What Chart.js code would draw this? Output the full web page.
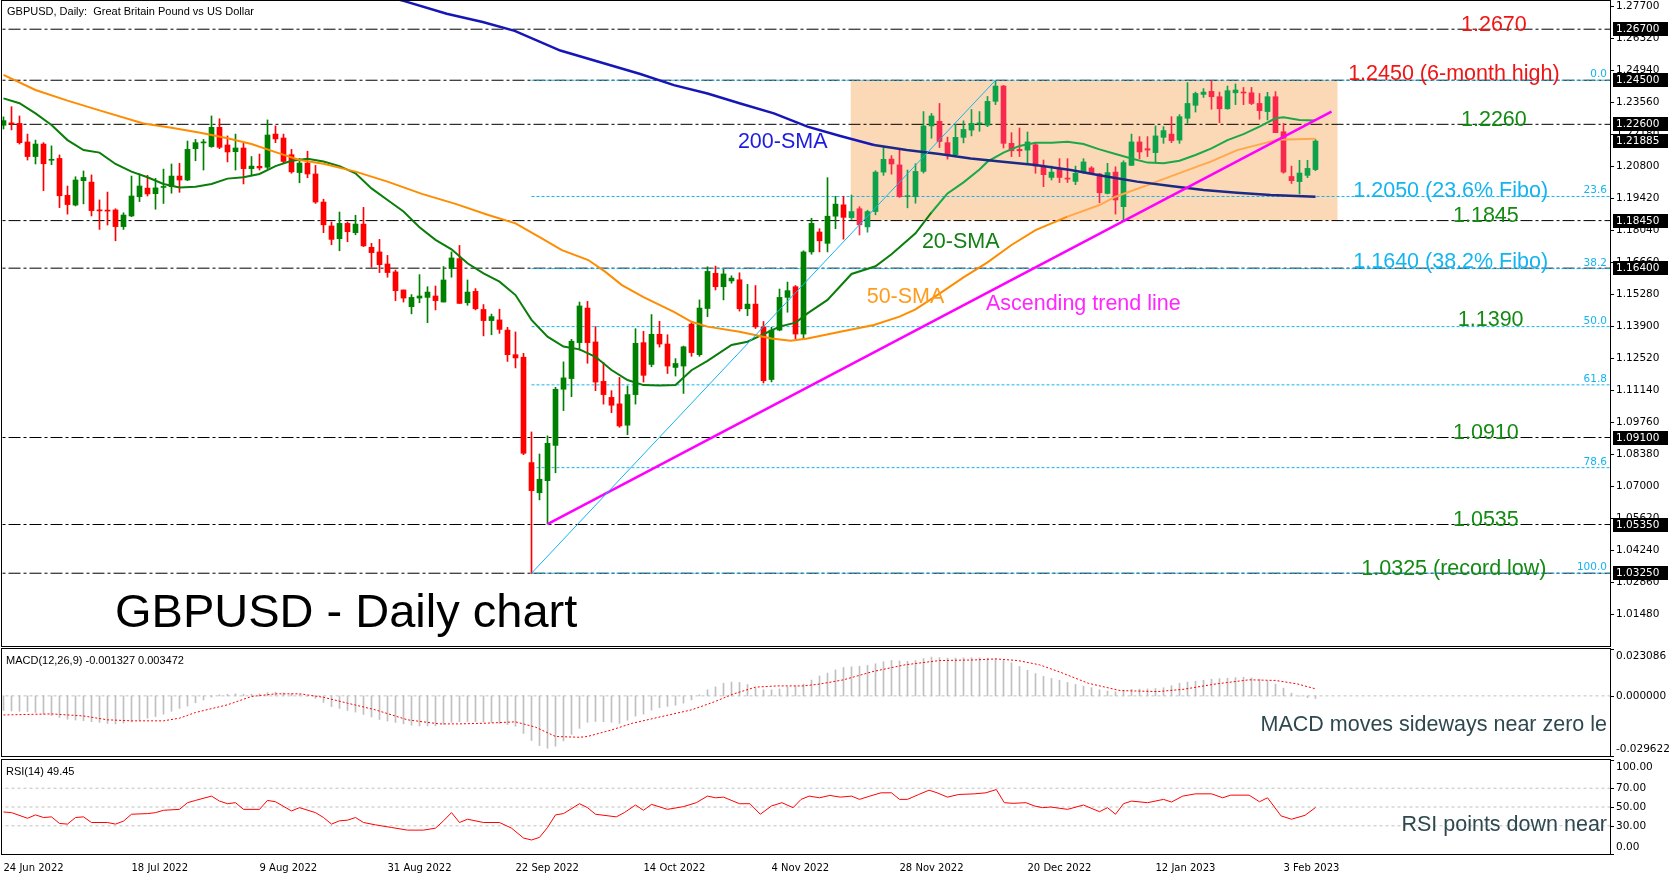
<!DOCTYPE html>
<html>
<head>
<meta charset="utf-8">
<script src="https://cdn.jsdelivr.net/npm/chart.js@4.4.0/dist/chart.umd.min.js"></script>
<style>
  html, body { margin: 0; padding: 0; background: #fff; }
  body { width: 1680px; height: 877px; position: relative; overflow: hidden; }
  canvas { position: absolute; left: 0; }
  #main { top: 0; }
  #macd { top: 648px; }
  #rsi { top: 758px; }
</style>
</head>
<body>
<canvas id="main" width="1680" height="648"></canvas>
<canvas id="macd" width="1680" height="110"></canvas>
<canvas id="rsi" width="1680" height="119"></canvas>
<script>
// daily candles, one per bar index
const open = [
  1.2256, 1.2265, 1.2264, 1.2184, 1.2121, 1.2175, 1.2105, 1.2113, 1.1954, 1.1912,
  1.2017, 1.2011, 1.1890, 1.1889, 1.1891, 1.1819, 1.1865, 1.1948, 1.1985, 1.1961,
  1.1988, 1.1991, 1.2037, 1.2020, 1.2155, 1.2180, 1.2164, 1.2247, 1.2171, 1.2142,
  1.2158, 1.2069, 1.2079, 1.2075, 1.2218, 1.2201, 1.2129, 1.2052, 1.2093, 1.2046,
  1.1925, 1.1822, 1.1767, 1.1833, 1.1793, 1.1830, 1.1730, 1.1710, 1.1658, 1.1624,
  1.1546, 1.1474, 1.1511, 1.1514, 1.1520, 1.1494, 1.1638, 1.1681, 1.1491, 1.1540,
  1.1462, 1.1414, 1.1417, 1.1373, 1.1267, 1.1256, 1.0802, 1.0672, 1.0724, 1.0876,
  1.1118, 1.1164, 1.1319, 1.1468, 1.1322, 1.1152, 1.1083, 1.1055, 1.0963, 1.1095,
  1.1319, 1.1225, 1.1355, 1.1313, 1.1212, 1.1218, 1.1399, 1.1267, 1.1466, 1.1618,
  1.1560, 1.1585, 1.1590, 1.1465, 1.1485, 1.1387, 1.1160, 1.1373, 1.1514, 1.1560,
  1.1356, 1.1710, 1.1796, 1.1747, 1.1864, 1.1913, 1.1858, 1.1896, 1.1818, 1.1884,
  1.2054, 1.2110, 1.2085, 1.1948, 1.1948, 1.2057, 1.2253, 1.2273, 1.2181, 1.2129,
  1.2204, 1.2235, 1.2262, 1.2256, 1.2359, 1.2425, 1.2178, 1.2152, 1.2149, 1.2172,
  1.2080, 1.2031, 1.2069, 1.2028, 1.2014, 1.2054, 1.2072, 1.2046, 1.1962, 1.2054,
  1.1905, 1.2083, 1.2184, 1.2155, 1.2138, 1.2204, 1.2218, 1.2192, 1.2286, 1.2342,
  1.2389, 1.2402, 1.2379, 1.2327, 1.2396, 1.2399, 1.2396, 1.2350, 1.2315, 1.2379,
  1.2228, 1.2035, 1.2013, 1.2040, 1.2065
];
const high = [
  1.2292, 1.2336, 1.2296, 1.2218, 1.2192, 1.2181, 1.2167, 1.2128, 1.1994, 1.2034,
  1.2059, 1.2042, 1.1934, 1.1968, 1.1896, 1.1879, 1.2037, 1.2046, 1.2040, 1.2027,
  1.2067, 1.2089, 1.2092, 1.2188, 1.2195, 1.2195, 1.2296, 1.2284, 1.2210, 1.2218,
  1.2178, 1.2121, 1.2132, 1.2279, 1.2253, 1.2218, 1.2152, 1.2113, 1.2144, 1.2083,
  1.1937, 1.1839, 1.1882, 1.1839, 1.1868, 1.1902, 1.1747, 1.1764, 1.1695, 1.1632,
  1.1546, 1.1526, 1.1612, 1.1560, 1.1563, 1.1647, 1.1710, 1.1738, 1.1589, 1.1552,
  1.1483, 1.1442, 1.1463, 1.1385, 1.1365, 1.1273, 1.0934, 1.0839, 1.0917, 1.1126,
  1.1236, 1.1333, 1.1494, 1.1497, 1.1388, 1.1233, 1.1112, 1.1169, 1.1132, 1.1379,
  1.1368, 1.1440, 1.1411, 1.1353, 1.1250, 1.1304, 1.1405, 1.1503, 1.1646, 1.1649,
  1.1635, 1.1607, 1.1620, 1.1570, 1.1565, 1.1410, 1.1385, 1.1550, 1.1580, 1.1565,
  1.1715, 1.1855, 1.1810, 1.2030, 1.1950, 1.1950, 1.1955, 1.1905, 1.1890, 1.2060,
  1.2161, 1.2125, 1.2150, 1.2063, 1.2090, 1.2315, 1.2307, 1.2350, 1.2205, 1.2260,
  1.2275, 1.2324, 1.2315, 1.2380, 1.2447, 1.2428, 1.2224, 1.2244, 1.2227, 1.2178,
  1.2106, 1.2080, 1.2112, 1.2112, 1.2080, 1.2112, 1.2078, 1.2049, 1.2092, 1.2077,
  1.2103, 1.2218, 1.2207, 1.2207, 1.2253, 1.2250, 1.2293, 1.2302, 1.2440, 1.2399,
  1.2414, 1.2448, 1.2399, 1.2425, 1.2434, 1.2419, 1.2419, 1.2393, 1.2398, 1.2401,
  1.2264, 1.2080, 1.2105, 1.2105, 1.2195
];
const low = [
  1.2240, 1.2236, 1.2175, 1.2106, 1.2089, 1.1974, 1.2086, 1.1901, 1.1873, 1.1908,
  1.1917, 1.1865, 1.1807, 1.1826, 1.1758, 1.1807, 1.1862, 1.1927, 1.1951, 1.1894,
  1.1919, 1.1963, 1.1967, 1.2017, 1.2103, 1.2063, 1.2161, 1.2155, 1.2098, 1.2063,
  1.2003, 1.2040, 1.2063, 1.2069, 1.2181, 1.2092, 1.2049, 1.2008, 1.2030, 1.1919,
  1.1793, 1.1741, 1.1715, 1.1754, 1.1784, 1.1733, 1.1644, 1.1621, 1.1601, 1.1500,
  1.1494, 1.1443, 1.1491, 1.1405, 1.1460, 1.1494, 1.1601, 1.1488, 1.1480, 1.1460,
  1.1348, 1.1353, 1.1359, 1.1238, 1.1210, 1.0836, 1.0324, 1.0641, 1.0537, 1.0758,
  1.1026, 1.1086, 1.1287, 1.1230, 1.1112, 1.1054, 1.1017, 1.0954, 1.0922, 1.1054,
  1.1149, 1.1215, 1.1300, 1.1186, 1.1175, 1.1100, 1.1260, 1.1260, 1.1431, 1.1546,
  1.1503, 1.1575, 1.1455, 1.1435, 1.1380, 1.1145, 1.1150, 1.1370, 1.1450, 1.1335,
  1.1335, 1.1700, 1.1710, 1.1710, 1.1810, 1.1765, 1.1850, 1.1783, 1.1795, 1.1870,
  1.2040, 1.2045, 1.1945, 1.1900, 1.1920, 1.2050, 1.2200, 1.2160, 1.2110, 1.2125,
  1.2180, 1.2210, 1.2230, 1.2250, 1.2345, 1.2158, 1.2121, 1.2121, 1.2089, 1.2049,
  1.1991, 1.2020, 1.2009, 1.2009, 1.2000, 1.2049, 1.2043, 1.1922, 1.1960, 1.1873,
  1.1848, 1.2083, 1.2112, 1.2121, 1.2095, 1.2178, 1.2181, 1.2178, 1.2264, 1.2313,
  1.2376, 1.2325, 1.2267, 1.2325, 1.2345, 1.2345, 1.2345, 1.2282, 1.2279, 1.2224,
  1.2049, 1.2005, 1.1960, 1.2030, 1.2060
];
const close = [
  1.2276, 1.2262, 1.2181, 1.2121, 1.2175, 1.2090, 1.2108, 1.1952, 1.1914, 1.2020,
  1.2031, 1.1888, 1.1887, 1.1886, 1.1819, 1.1869, 1.1951, 1.1994, 1.1960, 1.1986,
  1.1992, 1.2037, 1.2020, 1.2152, 1.2181, 1.2184, 1.2247, 1.2161, 1.2141, 1.2158,
  1.2069, 1.2080, 1.2072, 1.2214, 1.2197, 1.2100, 1.2055, 1.2093, 1.2046, 1.1925,
  1.1827, 1.1764, 1.1833, 1.1797, 1.1830, 1.1736, 1.1707, 1.1655, 1.1621, 1.1543,
  1.1511, 1.1514, 1.1520, 1.1537, 1.1500, 1.1589, 1.1684, 1.1488, 1.1537, 1.1465,
  1.1414, 1.1431, 1.1376, 1.1267, 1.1253, 1.0842, 1.0681, 1.0730, 1.0885, 1.1118,
  1.1167, 1.1325, 1.1477, 1.1319, 1.1149, 1.1095, 1.1049, 1.0960, 1.1095, 1.1316,
  1.1178, 1.1355, 1.1313, 1.1218, 1.1229, 1.1301, 1.1276, 1.1468, 1.1626, 1.1560,
  1.1615, 1.1597, 1.1465, 1.1485, 1.1387, 1.1155, 1.1373, 1.1514, 1.1543, 1.1356,
  1.1710, 1.1833, 1.1758, 1.1864, 1.1916, 1.1859, 1.1884, 1.1827, 1.1884, 1.2054,
  1.2109, 1.2089, 1.1948, 1.1952, 1.2057, 1.2253, 1.2296, 1.2186, 1.2129, 1.2204,
  1.2238, 1.2264, 1.2266, 1.2359, 1.2425, 1.2178, 1.2146, 1.2146, 1.2184, 1.2080,
  1.2043, 1.2054, 1.2031, 1.2024, 1.2049, 1.2098, 1.2049, 1.1965, 1.2052, 1.1934,
  1.2095, 1.2184, 1.2141, 1.2149, 1.2210, 1.2233, 1.2190, 1.2293, 1.2350, 1.2393,
  1.2399, 1.2379, 1.2327, 1.2405, 1.2408, 1.2395, 1.2350, 1.2319, 1.2379, 1.2224,
  1.2054, 1.2017, 1.2050, 1.2070, 1.2188
];

// moving averages as [bar, value]
const sma20 = [
  [0, 1.2372], [2, 1.2351], [4, 1.2307], [6, 1.2257], [8, 1.2192], [10, 1.2149], [12, 1.2138],
  [14, 1.2089], [16, 1.2056], [18, 1.2032], [20, 1.2003], [22, 1.1988], [24, 1.1991], [26, 1.2003],
  [28, 1.2026], [30, 1.2032], [32, 1.2046], [34, 1.2080], [36, 1.2103], [38, 1.2112], [40, 1.2100],
  [42, 1.2080], [44, 1.2049], [46, 1.1984], [48, 1.1934], [50, 1.1884], [52, 1.1816], [54, 1.1762],
  [56, 1.1721], [58, 1.1661], [60, 1.1618], [62, 1.1582], [64, 1.1524], [66, 1.1417], [68, 1.1345],
  [70, 1.1302], [72, 1.1290], [74, 1.1258], [76, 1.1201], [78, 1.1158], [80, 1.1136], [82, 1.1134],
  [84, 1.1136], [86, 1.1200], [88, 1.1240], [91, 1.1309], [93, 1.1323], [97, 1.1388], [99, 1.1405],
  [100.5, 1.1445], [103, 1.1503], [106, 1.1615], [109, 1.1648], [111, 1.1700], [114, 1.1790],
  [116, 1.1880], [118, 1.1962], [120, 1.2010], [122, 1.2065], [123, 1.2099], [125, 1.2138],
  [127, 1.2167], [129, 1.2181], [131, 1.2181], [133, 1.2185], [135, 1.2175], [137, 1.2152],
  [139, 1.2132], [141, 1.2113], [143, 1.2095], [145, 1.2092], [147, 1.2103], [149, 1.2128],
  [151, 1.2156], [153, 1.2192], [155, 1.2218], [157, 1.2250], [159, 1.2286], [160, 1.2290],
  [162, 1.2279], [164, 1.2276]
];
const sma50 = [
  [0, 1.2473], [4, 1.2408], [8, 1.2362], [12, 1.2320], [17.5, 1.2264], [21, 1.2245], [24.6, 1.2224],
  [28, 1.2200], [31, 1.2175], [34, 1.2140], [37, 1.2106], [40, 1.2090], [44, 1.2056], [48, 1.2013],
  [52.3, 1.1960], [56.5, 1.1917], [60.6, 1.1869], [64, 1.1833], [66.9, 1.1776], [69.8, 1.1718],
  [73.1, 1.1675], [75.2, 1.1625], [77.3, 1.1567], [80, 1.1515], [83.8, 1.1452], [86, 1.1409],
  [88, 1.1388], [92, 1.1366], [96, 1.1337], [98.4, 1.1327], [100.5, 1.1337], [104.6, 1.1366],
  [108.8, 1.1395], [112, 1.1431], [114, 1.1462], [117, 1.1530], [120, 1.1600], [123, 1.1665],
  [126, 1.1740], [129, 1.1804], [133, 1.1862], [137, 1.1912], [139, 1.1948], [143, 1.1998],
  [146.4, 1.2042], [150.9, 1.2099], [154.2, 1.2149], [157.5, 1.2178], [159.2, 1.2193], [164, 1.2198]
];
const sma200 = [
  [46, 1.2830], [50, 1.2792], [55.4, 1.2737], [59.9, 1.2701], [63.9, 1.2663], [69.6, 1.2578],
  [79.6, 1.2477], [83.8, 1.2429], [88, 1.2393], [92.1, 1.2350], [96.3, 1.2307], [100.5, 1.2250],
  [104.6, 1.2210], [108.8, 1.2171], [112.9, 1.2149], [117, 1.2132], [120.9, 1.2113], [124.9, 1.2099],
  [129, 1.2085], [133.4, 1.2063], [137.5, 1.2037], [141.7, 1.2013], [145.9, 1.1994], [150, 1.1977],
  [154.2, 1.1965], [158.4, 1.1955], [164, 1.1948]
];

// objects drawn on the chart
const keyLevels = [1.2670, 1.2450, 1.2260, 1.1845, 1.1640, 1.0910, 1.0535, 1.0325];
const priceBoxes = [1.26700, 1.24500, 1.22600, 1.21885, 1.18450, 1.16400, 1.09100, 1.05350, 1.03250];
const fiboNames = ['0.0', '23.6', '38.2', '50.0', '61.8', '78.6', '100.0'];
const fiboPrices = [1.2450, 1.1949, 1.1638, 1.1388, 1.1137, 1.0780, 1.0325];
const fiboStartBar = 66;
const fiboLine = [[66, 1.0325], [124, 1.2450]];
const trendLine = [[68, 1.0537], [166, 1.2315]];
const rangeBars = [105.9, 166.75];
const rangePrices = [1.1845, 1.2450];

const priceTicks = [1.27700, 1.26320, 1.24940, 1.23560, 1.22180, 1.20800, 1.19420, 1.18040, 1.16660,
  1.15280, 1.13900, 1.12520, 1.11140, 1.09760, 1.08380, 1.07000, 1.05620, 1.04240, 1.02860, 1.01480];
const dateTickBars = [0, 16, 32, 48, 64, 80, 96, 112, 128, 144, 160];
const dateTickLabels = ['24 Jun 2022', '18 Jul 2022', '9 Aug 2022', '31 Aug 2022', '22 Sep 2022',
  '14 Oct 2022', '4 Nov 2022', '28 Nov 2022', '20 Dec 2022', '12 Jan 2023', '3 Feb 2023'];

// MACD(12,26,9) main values per bar, and signal line points
const macd = [
  -0.0072, -0.0074, -0.0076, -0.0077, -0.0082, -0.0090, -0.0097, -0.0106, -0.0115, -0.0119,
  -0.0122, -0.0127, -0.0131, -0.0136, -0.0138, -0.0134, -0.0128, -0.0120, -0.0110, -0.0102,
  -0.0090, -0.0076, -0.0062, -0.0050, -0.0034, -0.0020, -0.0006, 0.0005, 0.0008, 0.0010,
  0.0008, 0.0008, 0.0010, 0.0016, 0.0018, 0.0015, 0.0011, 0.0006, -0.0002, -0.0012,
  -0.0032, -0.0053, -0.0062, -0.0072, -0.0080, -0.0092, -0.0104, -0.0116, -0.0124, -0.0131,
  -0.0138, -0.0145, -0.0148, -0.0148, -0.0148, -0.0140, -0.0130, -0.0127, -0.0126, -0.0127,
  -0.0129, -0.0131, -0.0136, -0.0142, -0.0150, -0.0185, -0.0220, -0.0245, -0.0258, -0.0248,
  -0.0222, -0.0190, -0.0160, -0.0130, -0.0126, -0.0127, -0.0130, -0.0135, -0.0120, -0.0100,
  -0.0090, -0.0070, -0.0058, -0.0052, -0.0046, -0.0036, -0.0020, 0.0005, 0.0030, 0.0044,
  0.0062, 0.0068, 0.0066, 0.0056, 0.0040, 0.0030, 0.0030, 0.0034, 0.0044, 0.0048,
  0.0058, 0.0078, 0.0098, 0.0112, 0.0128, 0.0140, 0.0143, 0.0146, 0.0150, 0.0158,
  0.0168, 0.0174, 0.0172, 0.0170, 0.0174, 0.0184, 0.0191, 0.0188, 0.0186, 0.0186,
  0.0187, 0.0188, 0.0187, 0.0186, 0.0184, 0.0174, 0.0163, 0.0145, 0.0126, 0.0110,
  0.0096, 0.0086, 0.0077, 0.0066, 0.0056, 0.0048, 0.0040, 0.0030, 0.0024, 0.0020,
  0.0028, 0.0032, 0.0033, 0.0034, 0.0036, 0.0040, 0.0050, 0.0062, 0.0068, 0.0072,
  0.0077, 0.0082, 0.0085, 0.0087, 0.0090, 0.0092, 0.0088, 0.0082, 0.0074, 0.0058,
  0.0038, 0.0013, -0.0002, -0.0009, -0.0013
];
const macdSignal = [
  [0, -0.0094], [6, -0.0089], [10, -0.0099], [13, -0.0118], [16, -0.0123], [20, -0.0123],
  [22, -0.0110], [24, -0.0082], [28, -0.0044], [31, -0.0003], [34, 0.0010], [37, 0.0010],
  [40, -0.0007], [43, -0.0036], [46.5, -0.0069], [50.5, -0.0118], [54.5, -0.0138], [57, -0.0138],
  [60, -0.0135], [64, -0.0128], [66.5, -0.0154], [69, -0.0200], [72, -0.0204], [73, -0.0200],
  [76, -0.0168], [78.6, -0.0135], [82.6, -0.0099], [86, -0.0069], [88.6, -0.0033], [91.3, 0.0010],
  [94, 0.0043], [96.7, 0.0049], [100, 0.0049], [102, 0.0058], [105, 0.0079], [108.7, 0.0120],
  [112.7, 0.0153], [117, 0.0174], [121.4, 0.0177], [124, 0.0182], [126.8, 0.0174], [129.5, 0.0153],
  [132.2, 0.0115], [135.6, 0.0062], [139.6, 0.0026], [144.3, 0.0021], [147.6, 0.0033],
  [151.6, 0.0059], [155.7, 0.0079], [159, 0.0076], [161.7, 0.0059], [164, 0.003472]
];

// RSI(14) points
const rsi = [
  [0, 44.7], [1, 44], [3, 38], [4, 41.6], [5, 38.8], [6, 39.5], [7, 32.5], [8, 31.8], [9, 38.8],
  [10, 39.5], [11, 33.5], [13, 33.5], [14, 31.8], [15, 35], [16, 42.3], [18, 43], [19, 44],
  [20, 46.5], [22, 47.5], [23, 54.6], [24, 57], [26, 61.6], [27, 56.3], [28, 53.5], [29, 54.6],
  [30, 47.5], [32, 47.5], [33, 57], [34, 55.6], [36, 45.8], [37, 49.3], [39, 44], [40, 38.8],
  [41, 31.8], [42, 35.3], [43, 36], [44, 38.8], [45, 33.5], [46.5, 31], [48.5, 28.2], [50.5, 25.4],
  [52.5, 25.4], [54, 27.5], [55, 35.3], [56, 44], [57, 33.5], [58, 37], [60, 33.5], [62, 33.5],
  [63.5, 27.5], [65, 17], [66, 14.9], [67, 17.7], [68, 28.2], [69, 41.6], [70, 43], [72, 53.5],
  [73, 49.3], [74, 42.3], [76.6, 39.5], [77.6, 44], [79, 52.1], [80, 46.5], [81, 52.8], [83, 47.5],
  [85, 50.4], [86.6, 54.6], [88, 61.6], [89, 59.8], [90, 60.5], [92, 53.5], [93.3, 53.5],
  [94.6, 42.3], [96, 51.1], [97.3, 54.6], [98.7, 49.3], [99.7, 58.1], [100.7, 61.6], [102, 59.8],
  [103.3, 62.3], [104.6, 60.5], [106, 61.6], [107, 58.1], [108.3, 61.6], [109.7, 65.1], [111, 65.1],
  [112, 58.1], [113, 58.1], [114.4, 63.3], [115.7, 67.9], [116.7, 65.1], [118, 60.5], [119.4, 63.3],
  [121.4, 64], [122.8, 65.1], [124.1, 68.6], [125.1, 54.6], [126.2, 53.9], [127.8, 54.6], [128.9, 51],
  [129.9, 49.3], [130.9, 50], [133, 47.5], [135, 52.1], [137, 45], [138, 49.3], [139, 42.3],
  [140, 53.5], [141, 56.3], [143, 54.6], [145, 58.1], [146, 55.3], [147.4, 61.6], [149, 64], [151, 64],
  [152.4, 59.8], [153.4, 62.6], [155.7, 62.6], [157, 55.6], [158, 59.8], [159.7, 40.5], [161, 37],
  [162.7, 41.2], [164, 49.45]
];

// one bar = 8px, bar 0 sits at x = 3.5
const X_MIN = -0.1875, X_MAX = 200.8125;
const Y_MIN = 1.00113, Y_MAX = 1.27916;

const inRange = (x, y) => x >= rangeBars[0] && x <= rangeBars[1] && y >= rangePrices[0] && y <= rangePrices[1];
const pts = arr => arr.map(p => ({ x: p[0], y: p[1] }));

function candleColor(i) {
  let up = close[i] >= open[i];
  if (i >= rangeBars[0]) return up ? '#0fa24c' : '#f7294c';
  return up ? '#008000' : '#ff0000';
}

function segColor(inside) {
  return ctx => inRange(ctx.p0.parsed.x, ctx.p0.parsed.y) ? inside : undefined;
}

function levelLine(y, color, dash, order) {
  return {
    type: 'line', data: [{ x: -2, y: y }, { x: 205, y: y }], borderColor: color, borderWidth: 1,
    borderDash: dash, pointRadius: 0, order: order
  };
}

// keep the plot area exactly where the terminal puts it
function fixWidth(s) {
  s.width = 70;
  s.paddingTop = 0;
  s.paddingBottom = 0;
}

const xScale = { type: 'linear', min: X_MIN, max: X_MAX, offset: false, display: false };

const frame = {
  id: 'frame',
  afterDraw(chart) {
    let a = chart.chartArea, ctx = chart.ctx;
    ctx.save();
    ctx.strokeStyle = '#000';
    ctx.lineWidth = 1;
    ctx.strokeRect(a.left - 0.5, a.top - 0.5, a.right - a.left + 1, a.bottom - a.top + 1);
    ctx.restore();
  }
};

// texts drawn on the price panel
const notes = [
  { text: '200-SMA', bar: 91.8, price: 1.2158, color: '#1c1ce0', align: 'left' },
  { text: '20-SMA', bar: 114.8, price: 1.1727, color: '#138013', align: 'left' },
  { text: '50-SMA', bar: 107.9, price: 1.1490, color: '#ff9c1e', align: 'left' },
  { text: 'Ascending trend line', bar: 122.8, price: 1.1460, color: '#ff26ff', align: 'left' },
  { text: '1.2670', bar: 186.3, price: 1.2662, color: '#f01414', align: 'center' },
  { text: '1.2450 (6-month high)', bar: 181.3, price: 1.2451, color: '#f01414', align: 'center' },
  { text: '1.2260', bar: 186.3, price: 1.2253, color: '#138a13', align: 'center' },
  { text: '1.2050 (23.6% Fibo)', bar: 180.9, price: 1.1947, color: '#14b4f0', align: 'center' },
  { text: '1.1845', bar: 185.3, price: 1.1839, color: '#138a13', align: 'center' },
  { text: '1.1640 (38.2% Fibo)', bar: 180.9, price: 1.1641, color: '#14b4f0', align: 'center' },
  { text: '1.1390', bar: 185.9, price: 1.1391, color: '#138a13', align: 'center' },
  { text: '1.0910', bar: 185.3, price: 1.0904, color: '#138a13', align: 'center' },
  { text: '1.0535', bar: 185.3, price: 1.0529, color: '#138a13', align: 'center' },
  { text: '1.0325 (record low)', bar: 181.3, price: 1.0318, color: '#138a13', align: 'center' }
];

const mainDecor = {
  id: 'mainDecor',
  beforeDatasetsDraw(chart) {
    let x = chart.scales.x, y = chart.scales.y, ctx = chart.ctx;
    let x0 = x.getPixelForValue(rangeBars[0]), x1 = x.getPixelForValue(rangeBars[1]);
    let y0 = y.getPixelForValue(rangePrices[1]), y1 = y.getPixelForValue(rangePrices[0]);
    ctx.save();
    ctx.fillStyle = '#fcd9b6';
    ctx.fillRect(x0, y0, x1 - x0, y1 - y0);
    ctx.restore();
  },
  afterDatasetsDraw(chart) {
    let x = chart.scales.x, y = chart.scales.y, ctx = chart.ctx, a = chart.chartArea;
    ctx.save();
    ctx.font = '10.5px "DejaVu Sans"';
    ctx.fillStyle = '#14b4f0';
    ctx.textAlign = 'right';
    fiboPrices.forEach((p, i) => ctx.fillText(fiboNames[i], a.right - 3, y.getPixelForValue(p) - 3));

    ctx.font = '21.5px "Liberation Sans"';
    notes.forEach(n => {
      ctx.fillStyle = n.color;
      ctx.textAlign = n.align;
      ctx.fillText(n.text, x.getPixelForValue(n.bar), y.getPixelForValue(n.price));
    });

    ctx.fillStyle = '#000';
    ctx.textAlign = 'left';
    ctx.font = '47px "Liberation Sans"';
    ctx.fillText('GBPUSD - Daily chart', x.getPixelForValue(13.94), y.getPixelForValue(1.00935));
    ctx.font = '11px "Liberation Sans"';
    ctx.fillText('GBPUSD, Daily:  Great Britain Pound vs US Dollar', 7, 15);
    ctx.restore();
  },
  afterDraw(chart) {
    let y = chart.scales.y, ctx = chart.ctx;
    ctx.save();
    ctx.font = '10.5px "DejaVu Sans"';
    ctx.textBaseline = 'middle';
    priceBoxes.forEach(p => {
      let py = Math.round(y.getPixelForValue(p));
      ctx.fillStyle = '#000';
      ctx.fillRect(1613, py - 7, 55, 14);
      ctx.fillStyle = '#fff';
      ctx.fillText(p.toFixed(5), 1616, py + 0.5);
    });
    ctx.restore();
  }
};

const mainDatasets = [];
keyLevels.forEach(l => mainDatasets.push(levelLine(l, '#000', [12, 3, 3, 3], 10)));
fiboPrices.forEach(p => mainDatasets.push({
  type: 'line', data: [{ x: fiboStartBar, y: p }, { x: 205, y: p }], borderColor: '#14b4f0',
  borderWidth: 1, borderDash: [3, 2], pointRadius: 0, order: 9
}));
mainDatasets.push({
  type: 'bar', data: low.map((l, i) => ({ x: i, y: [l, high[i]] })),
  backgroundColor: ctx => candleColor(ctx.dataIndex), barThickness: 1, grouped: false, order: 6
});
mainDatasets.push({
  type: 'bar', data: open.map((o, i) => ({ x: i, y: [o, close[i]] })),
  backgroundColor: ctx => candleColor(ctx.dataIndex), barThickness: 5, minBarLength: 1, grouped: false, order: 5
});
mainDatasets.push({
  type: 'line', data: pts(sma200), borderColor: '#1616b8', borderWidth: 2.5, pointRadius: 0,
  segment: { borderColor: segColor('#1b2a86') }, order: 3
});
mainDatasets.push({
  type: 'line', data: pts(sma50), borderColor: '#ff8c00', borderWidth: 2, pointRadius: 0,
  segment: { borderColor: segColor('#ffa84e') }, order: 3
});
mainDatasets.push({
  type: 'line', data: pts(sma20), borderColor: '#0a7d0a', borderWidth: 2, pointRadius: 0,
  segment: { borderColor: segColor('#1aa84a') }, order: 3
});
mainDatasets.push({
  type: 'line', data: pts(fiboLine), borderColor: '#14b4f0', borderWidth: 1, pointRadius: 0, order: 2
});
mainDatasets.push({
  type: 'line', data: pts(trendLine), borderColor: '#ff00ff', borderWidth: 2.5, pointRadius: 0,
  segment: { borderColor: segColor('#ff3ad2') }, order: 2
});

new Chart(document.getElementById('main'), {
  type: 'bar',
  data: { datasets: mainDatasets },
  options: {
    responsive: false, animation: false, events: [],
    layout: { padding: { left: 2, top: 1, right: 0, bottom: 2 } },
    plugins: { legend: { display: false }, tooltip: { enabled: false } },
    scales: {
      x: xScale,
      y: {
        position: 'right', min: Y_MIN, max: Y_MAX,
        afterBuildTicks: s => { s.ticks = priceTicks.map(v => ({ value: v })); },
        afterFit: fixWidth,
        ticks: { callback: v => v.toFixed(5), color: '#000', padding: 2, autoSkip: false, font: { family: 'DejaVu Sans', size: 10.5 } },
        grid: { drawOnChartArea: false, tickLength: 4, tickColor: '#000' },
        border: { color: '#000' }
      }
    }
  },
  plugins: [mainDecor, frame]
});

// right-hand labels of the indicator panels, edge labels pulled inside like the terminal does
function sideLabels(values, texts, caption) {
  return {
    id: 'sideLabels',
    afterDraw(chart) {
      let y = chart.scales.y, a = chart.chartArea, ctx = chart.ctx;
      ctx.save();
      ctx.strokeStyle = '#000';
      ctx.fillStyle = '#000';
      ctx.font = '10.5px "DejaVu Sans"';
      ctx.textBaseline = 'middle';
      values.forEach((v, i) => {
        let py = y.getPixelForValue(v);
        ctx.beginPath();
        ctx.moveTo(a.right, Math.round(py) + 0.5);
        ctx.lineTo(a.right + 4, Math.round(py) + 0.5);
        ctx.stroke();
        let ty = Math.min(Math.max(py, a.top + 7), a.bottom - 7);
        ctx.fillText(texts[i], a.right + 6, ty);
      });
      ctx.font = '11px "Liberation Sans"';
      ctx.fillText(caption, 6, a.top + 12);
      ctx.restore();
    }
  };
}

function panelNote(text, px, baseline) {
  return {
    id: 'panelNote',
    afterDatasetsDraw(chart) {
      let a = chart.chartArea, ctx = chart.ctx;
      ctx.save();
      ctx.beginPath();
      ctx.rect(a.left, a.top, a.right - a.left, a.bottom - a.top);
      ctx.clip();
      ctx.font = '21.5px "Liberation Sans"';
      ctx.fillStyle = '#2e4850';
      ctx.textAlign = 'right';
      ctx.fillText(text, px, baseline);
      ctx.restore();
    }
  };
}

const sideAxis = (min, max) => ({
  position: 'right', min: min, max: max,
  afterFit: fixWidth,
  ticks: { display: false },
  grid: { display: false },
  border: { color: '#000' }
});

new Chart(document.getElementById('macd'), {
  type: 'bar',
  data: {
    datasets: [
      levelLine(0, '#c0c0c0', [3, 3], 10),
      {
        type: 'bar', data: macd.map((v, i) => ({ x: i, y: v })), backgroundColor: '#c0c0c0',
        barThickness: 1, grouped: false, order: 5
      },
      {
        type: 'line', data: pts(macdSignal), borderColor: '#ff0000', borderWidth: 1, borderDash: [2, 2],
        pointRadius: 0, order: 2
      }
    ]
  },
  options: {
    responsive: false, animation: false, events: [],
    layout: { padding: { left: 2, top: 1, right: 0, bottom: 2 } },
    plugins: { legend: { display: false }, tooltip: { enabled: false } },
    scales: { x: xScale, y: sideAxis(-0.029622, 0.023086) }
  },
  plugins: [
    panelNote('MACD moves sideways near zero le', 1607, 83),
    sideLabels([0.023086, 0, -0.029622], ['0.023086', '0.000000', '-0.029622'], 'MACD(12,26,9) -0.001327 0.003472'),
    frame
  ]
});

new Chart(document.getElementById('rsi'), {
  type: 'line',
  data: {
    datasets: [
      levelLine(70, '#c0c0c0', [3, 3], 10),
      levelLine(50, '#c0c0c0', [3, 3], 10),
      levelLine(30, '#c0c0c0', [3, 3], 10),
      { type: 'line', data: pts(rsi), borderColor: '#ff0000', borderWidth: 1, pointRadius: 0, order: 2 }
    ]
  },
  options: {
    responsive: false, animation: false, events: [],
    layout: { padding: { left: 2, top: 2, right: 0, bottom: 0 } },
    plugins: { legend: { display: false }, tooltip: { enabled: false } },
    scales: {
      x: {
        type: 'linear', min: X_MIN, max: X_MAX, offset: false,
        afterBuildTicks: s => { s.ticks = dateTickBars.map(v => ({ value: v })); },
        afterFit: s => { s.height = 23; },
        ticks: {
          callback: (v, i) => dateTickLabels[i], align: 'start', autoSkip: false, maxRotation: 0,
          color: '#000', padding: 0, font: { family: 'DejaVu Sans', size: 10 }
        },
        grid: { display: false },
        border: { display: false }
      },
      y: sideAxis(0, 100)
    }
  },
  plugins: [
    panelNote('RSI points down near', 1607, 73),
    sideLabels([100, 70, 50, 30, 0], ['100.00', '70.00', '50.00', '30.00', '0.00'], 'RSI(14) 49.45'),
    frame
  ]
});
</script>
</body>
</html>
